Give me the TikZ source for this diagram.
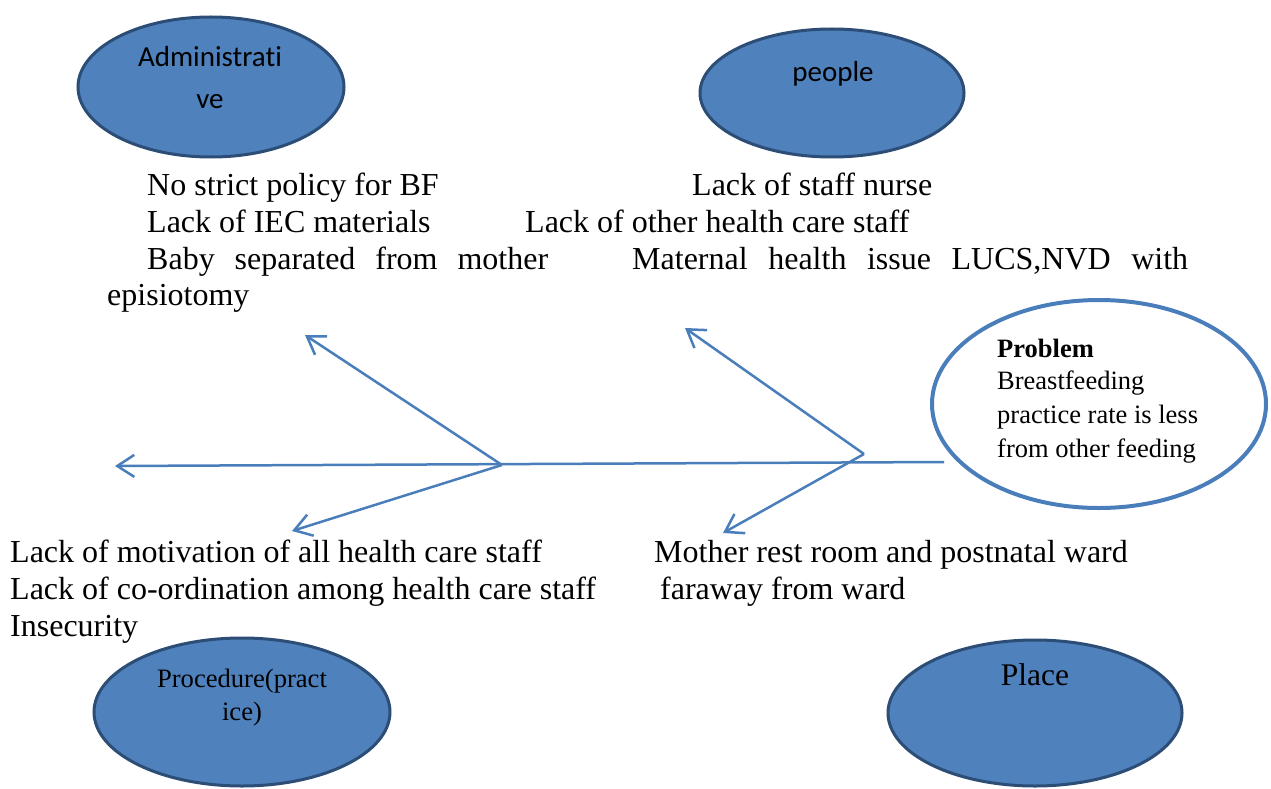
\documentclass[tikz,border=0pt]{standalone}
\usepackage{fontspec}
\setmainfont{Liberation Serif}
\newfontfamily\calib[Ligatures=NoCommon]{Carlito}
\usetikzlibrary{arrows.meta,shapes.geometric}
\definecolor{efill}{HTML}{4F81BD}
\definecolor{edraw}{HTML}{2C4D75}
\definecolor{aline}{HTML}{4A7EBB}
\begin{document}
\begin{tikzpicture}[x=1pt,y=-1pt,
  cat/.style={ellipse, draw=edraw, fill=efill, line width=3pt, inner sep=0pt},
  txt/.style={anchor=base west, inner sep=0pt, font=\fontsize{32}{37}\selectfont},
  lbl/.style={anchor=base, inner sep=0pt},
  ptxt/.style={anchor=base west, inner sep=0pt, font=\fontsize{26.5}{34}\selectfont},
  bone/.style={draw=aline, line width=2.5pt, -{Straight Barb[length=17pt,width=22pt]}},
]
\useasboundingbox (0,0) rectangle (1271,789);

% category ellipses
\node[cat, minimum width=266pt, minimum height=140pt] (adm) at (211,87) {};
\node[cat, minimum width=264pt, minimum height=128pt] (peo) at (832,93) {};
\node[cat, minimum width=296pt, minimum height=148pt] (pro) at (242,712) {};
\node[cat, minimum width=294pt, minimum height=146pt] (pla) at (1035,713) {};

\node[lbl, font=\calib\fontsize{29}{42}\selectfont] (admA) at (210,67) {Administrati};
\node[lbl, font=\calib\fontsize{29}{42}\selectfont] (admB) at (210,109) {ve};
\node[lbl, font=\calib\fontsize{29}{42}\selectfont] (peoA) at (833,82) {people};
\node[lbl, font=\fontsize{26.6}{33}\selectfont] (proA) at (242,687) {Procedure(pract};
\node[lbl, font=\fontsize{26.6}{33}\selectfont] (proB) at (242,720) {ice)};
\node[lbl, font=\fontsize{31.5}{37}\selectfont] (plaA) at (1035,685) {Place};

% problem
\node[ellipse, draw=aline, line width=4pt, fill=white, minimum width=334pt, minimum height=208pt] (prob) at (1099,404) {};
\node[ptxt] (pr1) at (997,357) {\bfseries Problem};
\node[ptxt] (pr2) at (997,389) {Breastfeeding};
\node[ptxt] (pr3) at (997,423) {practice rate is less};
\node[ptxt] (pr4) at (997,457) {from other feeding};

% fishbone
\coordinate (sR) at (944,462);
\coordinate (sL) at (115,466);
\coordinate (j1) at (502,465);
\coordinate (j2) at (864,454);
\coordinate (t1) at (305,335);
\coordinate (t2) at (292,531);
\coordinate (t3) at (685,328);
\coordinate (t4) at (723,533);
\draw[bone] (sR) -- (sL);
\draw[bone] (j1) -- (t1);
\draw[bone] (j1) -- (t2);
\draw[bone] (j2) -- (t3);
\draw[bone] (j2) -- (t4);

% top causes
\node[txt] (a1) at (147,195) {No strict policy for BF};
\node[txt] (a2) at (147,232) {Lack of IEC materials};
\node[txt] (a3) at (147,269) {\makebox[401pt][s]{Baby separated from mother}};
\node[txt] (a4) at (107,305) {episiotomy};
\node[txt] (p1) at (692,195) {Lack of staff nurse};
\node[txt] (p2) at (525,232) {Lack of other health care staff};
\node[txt] (p3) at (632,269) {\makebox[556pt][s]{Maternal health issue LUCS,NVD with}};

% bottom causes
\node[txt] (r1) at (10,562) {Lack of motivation of all health care staff};
\node[txt] (r2) at (10,599) {Lack of co-ordination among health care staff};
\node[txt] (r3) at (10,636) {Insecurity};
\node[txt] (l1) at (654,562) {Mother rest room and postnatal ward};
\node[txt] (l2) at (660,599) {faraway from ward};
\end{tikzpicture}
\end{document}
